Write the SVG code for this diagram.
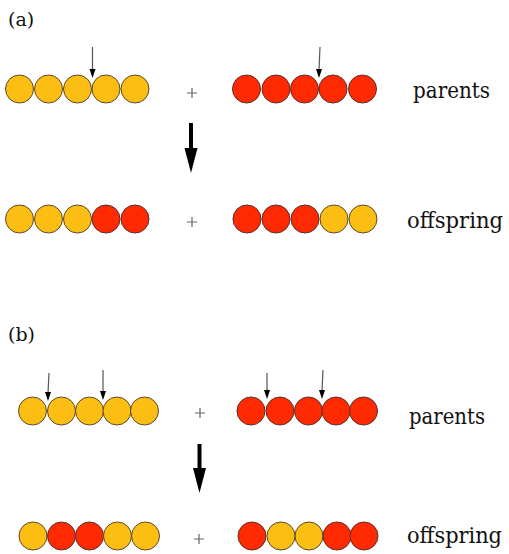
<svg xmlns="http://www.w3.org/2000/svg" width="509" height="554" viewBox="0 0 509 554">
<defs>
<style>
.y{fill:#FDBE14;stroke:#5a4a30;stroke-width:1}
.r{fill:#FF2A00;stroke:#5a3030;stroke-width:1}
.lbl{font-family:'DejaVu Serif',serif;fill:#111}
.pl{stroke:#666;stroke-width:1.2;fill:none}
.sa{stroke:#555;stroke-width:1.2;fill:none}
.big{stroke:#000;stroke-width:4;fill:none}
</style>
</defs>
<rect width="509" height="554" fill="#fff"/>

<text class="lbl" x="8" y="26" font-size="19">(a)</text>
<text class="lbl" x="8" y="341" font-size="19">(b)</text>

<g id="a-parent1">
<circle class="y" cx="19.5" cy="89" r="14"/><circle class="y" cx="48.5" cy="89" r="14"/><circle class="y" cx="77.5" cy="89" r="14"/><circle class="y" cx="106" cy="89" r="14"/><circle class="y" cx="135" cy="89" r="14"/>
</g>
<g id="a-parent2">
<circle class="r" cx="246.5" cy="89" r="14"/><circle class="r" cx="276" cy="89" r="14"/><circle class="r" cx="304.5" cy="89" r="14"/><circle class="r" cx="333" cy="89" r="14"/><circle class="r" cx="362.5" cy="89" r="14"/>
</g>
<g id="a-child1">
<circle class="y" cx="19.5" cy="219" r="14"/><circle class="y" cx="48.5" cy="219" r="14"/><circle class="y" cx="77.5" cy="219" r="14"/><circle class="r" cx="106" cy="219" r="14"/><circle class="r" cx="135" cy="219" r="14"/>
</g>
<g id="a-child2">
<circle class="r" cx="247" cy="219" r="14"/><circle class="r" cx="276" cy="219" r="14"/><circle class="r" cx="305" cy="219" r="14"/><circle class="y" cx="334" cy="219" r="14"/><circle class="y" cx="363" cy="219" r="14"/>
</g>

<g id="b-parent1">
<circle class="y" cx="32.5" cy="411" r="14"/><circle class="y" cx="61.5" cy="411" r="14"/><circle class="y" cx="89.5" cy="411" r="14"/><circle class="y" cx="117" cy="411" r="14"/><circle class="y" cx="144.5" cy="411" r="14"/>
</g>
<g id="b-parent2">
<circle class="r" cx="251" cy="411" r="14"/><circle class="r" cx="280" cy="411" r="14"/><circle class="r" cx="308.5" cy="411" r="14"/><circle class="r" cx="336" cy="411" r="14"/><circle class="r" cx="363.5" cy="411" r="14"/>
</g>
<g id="b-child1">
<circle class="y" cx="33" cy="536" r="14"/><circle class="r" cx="61.5" cy="536" r="14"/><circle class="r" cx="89.5" cy="536" r="14"/><circle class="y" cx="117.5" cy="536" r="14"/><circle class="y" cx="145.5" cy="536" r="14"/>
</g>
<g id="b-child2">
<circle class="r" cx="252" cy="536" r="14"/><circle class="y" cx="281" cy="536" r="14"/><circle class="y" cx="309" cy="536" r="14"/><circle class="r" cx="337" cy="536" r="14"/><circle class="r" cx="364" cy="536" r="14"/>
</g>

<g id="plus">
<path class="pl" d="M187,93 H197 M192,88 V98"/>
<path class="pl" d="M187,222 H197 M192,217 V227"/>
<path class="pl" d="M195,413 H205 M200,408 V418"/>
<path class="pl" d="M194,539 H204 M199,534 V544"/>
</g>

<g id="labels">
<text class="lbl" x="413" y="98" font-size="22" textLength="77" lengthAdjust="spacingAndGlyphs">parents</text>
<text class="lbl" x="407" y="228" font-size="22" textLength="96" lengthAdjust="spacingAndGlyphs">offspring</text>
<text class="lbl" x="409" y="424" font-size="22" textLength="76" lengthAdjust="spacingAndGlyphs">parents</text>
<text class="lbl" x="407" y="543" font-size="22" textLength="95" lengthAdjust="spacingAndGlyphs">offspring</text>
</g>

<g id="connectors">
<path class="sa" d="M92.5,47 L92.5,70"/><path d="M89.5,69 L95.5,69 L92.5,78 Z" fill="#000"/>
<path class="sa" d="M320,47 L319,70"/><path d="M316,69 L322,69 L319,78 Z" fill="#000"/>
<path class="sa" d="M49,373 L48,393"/><path d="M45,392 L51,392 L48,401 Z" fill="#000"/>
<path class="sa" d="M103,370 L103,392"/><path d="M100,391 L106,391 L103,400 Z" fill="#000"/>
<path class="sa" d="M267,373 L267,391"/><path d="M264,390 L270,390 L267,399 Z" fill="#000"/>
<path class="sa" d="M323,370 L322,391"/><path d="M319,390 L325,390 L322,399 Z" fill="#000"/>
<path class="big" d="M191,123 L191,150"/><path d="M184.5,148 L197.5,148 L191,173 Z" fill="#000"/>
<path class="big" d="M199.5,444 L199.5,470"/><path d="M193,468 L206,468 L199.5,493 Z" fill="#000"/>
</g>
</svg>
